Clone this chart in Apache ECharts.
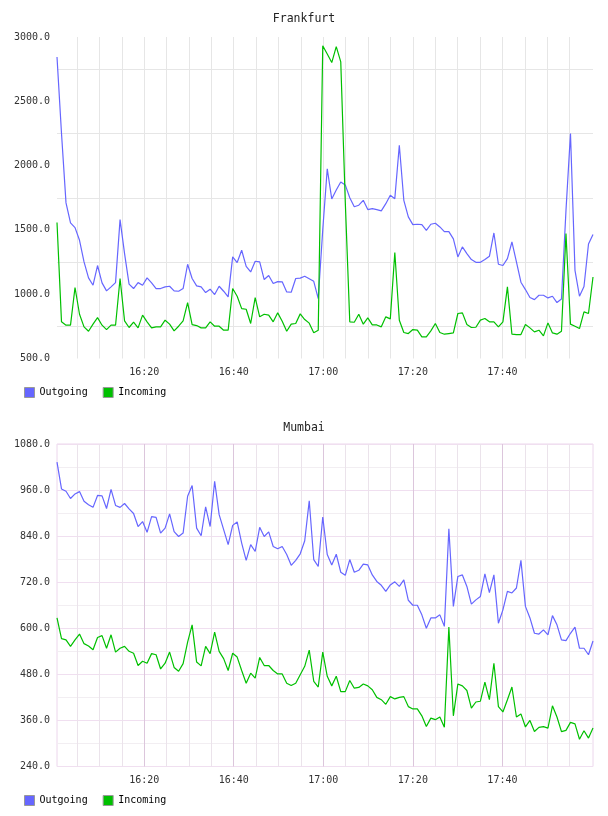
<!DOCTYPE html>
<html>
<head>
<meta charset="utf-8">
<script src="https://cdn.jsdelivr.net/npm/echarts@6/dist/echarts.min.js"></script>
<style>
    html, body {margin: 0; padding: 0; background: #fff;}
    #chart {width: 608px; height: 816px;}
</style>
</head>
<body>
<div id="chart"></div>
<script>
    // minutes after 16:00, one sample a minute
    var firstMin = 0.53, lastMin = 120.23, nSamples = 120;
    var labelMins = [20, 40, 60, 80, 100];
    var gridMins = [5, 10, 15, 20, 25, 30, 35, 40, 45, 50, 55, 60, 65, 70, 75, 80, 85, 90, 95, 100, 105, 110, 115];
    var fraLabels = [500, 1000, 1500, 2000, 2500, 3000];
    var fraGrid = [750, 1250, 1750, 2250, 2750];

    var fraOut = [2845, 2250, 1710, 1554, 1518, 1419, 1251, 1127, 1070, 1223, 1088, 1026, 1057, 1090, 1580, 1316, 1078, 1044, 1090, 1070,
        1127, 1088, 1044, 1044, 1057, 1062, 1026, 1023, 1044, 1233, 1122, 1065, 1057, 1013, 1039, 997, 1062, 1023, 979, 1290,
        1246, 1342, 1217, 1173, 1256, 1251, 1114, 1145, 1083, 1098, 1096, 1018, 1015, 1122, 1125, 1140, 1120, 1100, 966, 1500,
        1975, 1740, 1810, 1873, 1850, 1750, 1680, 1692, 1730, 1658, 1666, 1658, 1648, 1704, 1769, 1743, 2158, 1730, 1601, 1541,
        1544, 1541, 1497, 1544, 1552, 1523, 1487, 1487, 1430, 1290, 1368, 1316, 1269, 1248, 1248, 1269, 1295, 1476, 1233, 1223,
        1277, 1406, 1251, 1093, 1036, 974, 958, 992, 992, 971, 984, 935, 963, 1650, 2249, 1186, 984, 1060, 1390, 1465];
    var fraIn = [1557, 785, 759, 759, 1052, 844, 746, 712, 767, 818, 759, 725, 759, 759, 1122, 793, 741, 782, 738, 837,
        785, 738, 746, 746, 798, 767, 715, 751, 793, 935, 764, 756, 738, 738, 785, 751, 751, 720, 720, 1044,
        984, 888, 883, 772, 974, 824, 844, 837, 785, 855, 790, 712, 767, 772, 847, 803, 775, 700, 720, 2932,
        2868, 2801, 2925, 2806, 1720, 785, 782, 844, 767, 816, 761, 761, 746, 824, 808, 1324, 798, 702, 694, 725,
        720, 668, 668, 715, 772, 702, 689, 694, 699, 850, 855, 764, 741, 743, 798, 811, 785, 785, 746, 785,
        1057, 689, 686, 686, 764, 738, 707, 720, 676, 777, 699, 689, 712, 1471, 767, 751, 733, 863, 850, 1134];
    var mumOut = [1033, 963, 957, 938, 950, 956, 931, 922, 915, 946, 945, 912, 962, 920, 915, 925, 911, 899, 865, 878,
        850, 891, 889, 848, 861, 898, 852, 839, 848, 944, 972, 861, 841, 916, 865, 983, 896, 857, 818, 868,
        877, 822, 777, 818, 800, 863, 839, 851, 813, 807, 813, 792, 764, 777, 794, 828, 932, 779, 761, 890,
        792, 765, 793, 746, 738, 779, 746, 751, 767, 765, 739, 722, 712, 696, 713, 721, 709, 726, 673, 660,
        660, 635, 600, 627, 627, 635, 605, 859, 657, 735, 739, 709, 663, 674, 683, 742, 693, 739, 613, 648,
        696, 692, 705, 777, 657, 627, 587, 585, 596, 583, 633, 609, 570, 568, 587, 603, 548, 548, 531, 567];
    var mumIn = [627, 573, 570, 553, 570, 585, 560, 554, 544, 576, 581, 548, 583, 538, 548, 553, 540, 535, 503, 514,
        509, 534, 531, 494, 509, 538, 498, 488, 508, 564, 609, 512, 502, 553, 534, 590, 540, 521, 490, 535,
        525, 490, 457, 483, 470, 524, 503, 503, 490, 481, 481, 457, 451, 457, 479, 501, 543, 462, 447, 538,
        475, 450, 475, 435, 435, 464, 444, 446, 455, 450, 440, 420, 414, 402, 422, 416, 420, 422, 396, 390,
        390, 372, 344, 366, 362, 369, 342, 603, 372, 455, 450, 438, 392, 408, 410, 460, 414, 509, 396, 382,
        414, 447, 369, 377, 343, 360, 331, 342, 344, 340, 398, 369, 331, 334, 355, 351, 311, 333, 314, 340];

    var stepMin = (lastMin - firstMin) / (nSamples - 1);
    function pairs(vals) {
        var out = [];
        for (var i = 0; i < vals.length; i++) {
            out.push([firstMin + i * stepMin, vals[i]]);
        }
        return out;
    }
    function clock(v) {
        var m = Math.round(v);
        var h = 16 + Math.floor(m / 60), mm = m % 60;
        return h + ':' + (mm < 10 ? '0' : '') + mm;
    }

    var mono = 'DejaVu Sans Mono';
    var blue = '#6666ff', green = '#00c000';
    var labelText = {fontFamily: mono, fontSize: 10, color: '#333'};

    function xAxis(idx, lineColors) {
        return {
            type: 'value', gridIndex: idx, min: firstMin, max: lastMin,
            axisLine: {show: false},
            axisTick: {show: false, customValues: gridMins},
            axisLabel: Object.assign({customValues: labelMins, margin: 9, formatter: clock}, labelText),
            splitLine: {show: true, lineStyle: {color: lineColors, width: 1}}
        };
    }

    var myChart = echarts.init(document.getElementById('chart'));
    myChart.setOption({
        animation: false,
        backgroundColor: '#fff',
        title: [
            {text: 'Frankfurt', left: 'center', top: 13, padding: 0,
                textStyle: {fontFamily: mono, fontSize: 11.5, fontWeight: 'normal', color: '#222'}},
            {text: 'Mumbai', left: 'center', top: 422, padding: 0,
                textStyle: {fontFamily: mono, fontSize: 11.5, fontWeight: 'normal', color: '#222'}}
        ],
        legend: [
            {data: ['Outgoing', 'Incoming'], left: 24, top: 387, padding: 0, itemWidth: 10, itemHeight: 10,
                itemGap: 15, icon: 'rect', itemStyle: {borderColor: '#999', borderWidth: 1},
                textStyle: {fontFamily: mono, fontSize: 10, color: '#000'}},
            {data: ['Outgoing', 'Incoming'], left: 24, top: 795, padding: 0, itemWidth: 10, itemHeight: 10,
                itemGap: 15, icon: 'rect', itemStyle: {borderColor: '#999', borderWidth: 1},
                textStyle: {fontFamily: mono, fontSize: 10, color: '#000'}}
        ],
        grid: [
            {left: 57, right: 15, top: 37, height: 321.5, show: false},
            {left: 57, right: 15, top: 444, height: 322.5, show: true, borderColor: '#ecd6ec', borderWidth: 1}
        ],
        xAxis: [
            xAxis(0, '#e6e6e6'),
            xAxis(1, ['#ebe3eb', '#ebe3eb', '#ebe3eb', '#dcc6dc'])
        ],
        yAxis: [
            {
                type: 'value', gridIndex: 0, min: 500, max: 3000,
                axisLine: {show: false},
                axisTick: {show: false, customValues: fraGrid},
                axisLabel: Object.assign({customValues: fraLabels, margin: 7, formatter: function (v) { return v.toFixed(1); }}, labelText),
                splitLine: {show: true, lineStyle: {color: '#e6e6e6', width: 1}}
            },
            {
                type: 'value', gridIndex: 1, min: 240, max: 1080, interval: 60,
                axisLine: {show: false},
                axisTick: {show: false},
                axisLabel: Object.assign({margin: 7, formatter: function (v) { return v % 120 === 0 ? v.toFixed(1) : ''; }}, labelText),
                splitLine: {show: true, lineStyle: {color: ['#f0dff0', '#f2eef2'], width: 1}}
            }
        ],
        series: [
            {name: 'Outgoing', type: 'line', xAxisIndex: 0, yAxisIndex: 0, data: pairs(fraOut), showSymbol: false,
                color: blue, lineStyle: {width: 1.2}},
            {name: 'Incoming', type: 'line', xAxisIndex: 0, yAxisIndex: 0, data: pairs(fraIn), showSymbol: false,
                color: green, lineStyle: {width: 1.2}},
            {name: 'Outgoing', type: 'line', xAxisIndex: 1, yAxisIndex: 1, data: pairs(mumOut), showSymbol: false,
                color: blue, lineStyle: {width: 1.2}},
            {name: 'Incoming', type: 'line', xAxisIndex: 1, yAxisIndex: 1, data: pairs(mumIn), showSymbol: false,
                color: green, lineStyle: {width: 1.2}}
        ]
    });
</script>
</body>
</html>
